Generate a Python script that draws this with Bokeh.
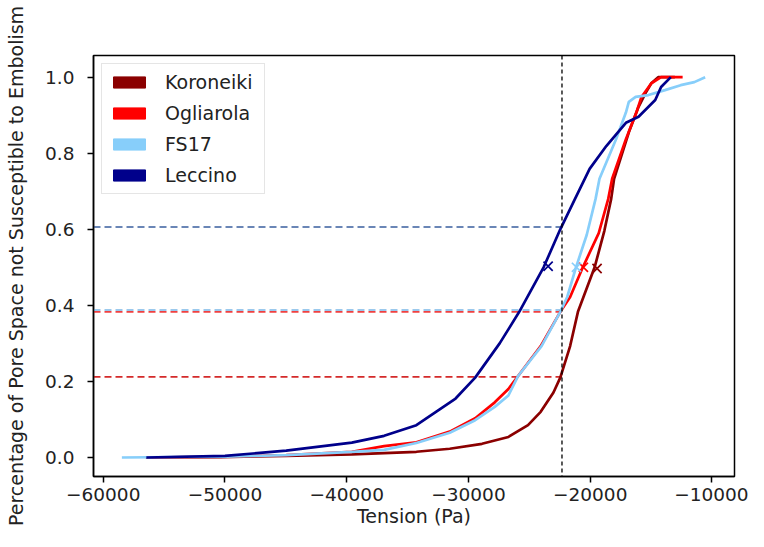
from bokeh.plotting import figure
from bokeh.models import FixedTicker, Span, Legend, LegendItem, Range1d
from bokeh.embed import file_html
from bokeh.resources import INLINE

# ---------------- data ----------------
names = ["Koroneiki", "Ogliarola", "FS17", "Leccino"]
colors = ["#8b0000", "#ff0000", "#87cefa", "#00008b"]

koroneiki_x = [-56500, -50350, -44970, -39580, -34280, -31540, -28890, -26720, -25110, -24070,
               -23020, -22460, -21650, -21010, -19640, -18840, -18280, -18040, -16830, -16030,
               -15460, -14980, -14420, -13050]
koroneiki_y = [0.0, 0.001, 0.004, 0.008, 0.015, 0.023, 0.036, 0.054, 0.085, 0.12,
               0.171, 0.21, 0.293, 0.383, 0.50, 0.596, 0.68, 0.733, 0.855, 0.922,
               0.958, 0.984, 1.0, 1.0]

ogliarola_x = [-56000, -50000, -44970, -39580, -36930, -34280, -31540, -29450, -27840, -26720,
               -25910, -24070, -22460, -21650, -20610, -19300, -18520, -18200, -17070, -16190,
               -15790, -14980, -14180, -12410]
ogliarola_y = [0.0, 0.002, 0.006, 0.015, 0.03, 0.04, 0.068, 0.103, 0.145, 0.18,
               0.215, 0.293, 0.383, 0.422, 0.50, 0.59, 0.68, 0.733, 0.837, 0.909,
               0.948, 0.984, 1.0, 1.0]

fs17_x = [-58470, -50000, -44970, -39580, -36930, -34280, -31540, -29450, -27840, -26720,
          -25910, -24000, -22460, -21890, -21170, -20290, -19560, -19240, -17880, -17070,
          -16830, -16270, -15220, -13860, -12570, -11450, -10560]
fs17_y = [0.0, 0.002, 0.006, 0.015, 0.02, 0.038, 0.065, 0.098, 0.133, 0.163,
          0.215, 0.293, 0.383, 0.422, 0.50, 0.585, 0.68, 0.733, 0.837, 0.907,
          0.935, 0.948, 0.953, 0.966, 0.979, 0.987, 1.0]

leccino_x = [-56460, -50000, -44970, -39580, -36930, -34280, -32670, -31060, -29450, -27440,
             -25830, -23830, -22460, -21250, -20050, -18680, -17070, -16030, -14660, -14180,
             -13380]
leccino_y = [0.0, 0.004, 0.018, 0.039, 0.057, 0.085, 0.12, 0.155, 0.21, 0.30,
             0.383, 0.50, 0.60, 0.68, 0.759, 0.819, 0.88, 0.896, 0.94, 0.974,
             1.0]

series_x = [koroneiki_x, ogliarola_x, fs17_x, leccino_x]
series_y = [koroneiki_y, ogliarola_y, fs17_y, leccino_y]

# half-point markers (x)
mid_x = [-19440, -20560, -21130, -23460]
mid_y = [0.497, 0.50, 0.50, 0.503]

# reference tension and fractions at that tension
ref_tension = -22320
ref_fraction = [0.212, 0.383, 0.388, 0.606]
ref_colors = ["#d42a2a", "#f04040", "#7ab8e8", "#3a5f9f"]

x_ticks = [-60000, -50000, -40000, -30000, -20000, -10000]
x_tick_labels = ["\u221260000", "\u221250000", "\u221240000", "\u221230000", "\u221220000", "\u221210000"]
y_ticks = [0.0, 0.2, 0.4, 0.6, 0.8, 1.0]
y_tick_labels = ["0.0", "0.2", "0.4", "0.6", "0.8", "1.0"]

x_start, x_end = -60800, -8150
y_start, y_end = -0.05, 1.057

FONT = "DejaVu Sans"

p = figure(width=748, height=531, output_backend="svg", toolbar_location=None,
           x_range=Range1d(x_start, x_end), y_range=Range1d(y_start, y_end),
           min_border_left=93, min_border_right=14, min_border_top=55, min_border_bottom=55)
p.background_fill_color = "white"
p.border_fill_color = "white"
p.outline_line_color = "black"
p.outline_line_width = 1.5
p.xgrid.visible = False
p.ygrid.visible = False

for ax, ticks, labels in [(p.xaxis[0], x_ticks, x_tick_labels), (p.yaxis[0], y_ticks, y_tick_labels)]:
    ax.ticker = FixedTicker(ticks=ticks)
    ax.major_label_overrides = {t: l for t, l in zip(ticks, labels)}
    ax.major_tick_in = 0
    ax.major_tick_out = 6
    ax.minor_tick_out = 0
    ax.minor_tick_in = 0
    ax.axis_line_color = "black"
    ax.axis_line_width = 1.5
    ax.major_tick_line_color = "black"
    ax.major_tick_line_width = 1.5
    ax.major_label_text_font = FONT
    ax.major_label_text_font_size = "18.5px"
    ax.major_label_text_color = "#222222"
    ax.axis_label_text_font = FONT
    ax.axis_label_text_font_size = "19px"
    ax.axis_label_text_font_style = "normal"
    ax.axis_label_text_color = "#222222"

p.xaxis.major_label_standoff = 5
p.yaxis.major_label_standoff = 13
p.xaxis.axis_label = "Tension (Pa)"
p.yaxis.axis_label = "Percentage of Pore Space not Susceptible to Embolism"
p.xaxis.axis_label_standoff = 1
p.yaxis.axis_label_standoff = 15

# reference dashed lines
for frac, c in zip(ref_fraction, ref_colors):
    p.segment(x0=[x_start], y0=[frac], x1=[ref_tension], y1=[frac],
              line_color=c, line_width=1.6, line_dash="7 4")
p.add_layout(Span(location=ref_tension, dimension="height", line_color="black",
                  line_width=1.3, line_dash="4 3"))

# curves
items = []
for xs, ys, c, n, mx, my in zip(series_x, series_y, colors, names, mid_x, mid_y):
    p.line(xs, ys, line_color=c, line_width=2.7)
    p.scatter([mx], [my], marker="x", size=13, line_color=c, line_width=1.7)

# legend with rectangle patches
for c, n in zip(colors, names):
    r = p.quad(left=[float("nan")], right=[float("nan")], top=[float("nan")], bottom=[float("nan")],
               fill_color=c, line_color=c)
    items.append(LegendItem(label=n, renderers=[r]))

legend = Legend(items=items, location="top_left")
legend.label_text_font = FONT
legend.label_text_font_size = "19px"
legend.label_text_color = "#222222"
legend.glyph_width = 40
legend.glyph_height = 14
legend.label_height = 21
legend.label_width = 92
legend.spacing = 9
legend.label_standoff = 16
legend.padding = 7
legend.margin = 8
legend.border_line_color = "#cccccc"
legend.border_line_width = 1.2
legend.background_fill_alpha = 0.85
p.add_layout(legend)

open("out.html", "w").write(file_html(p, INLINE))
